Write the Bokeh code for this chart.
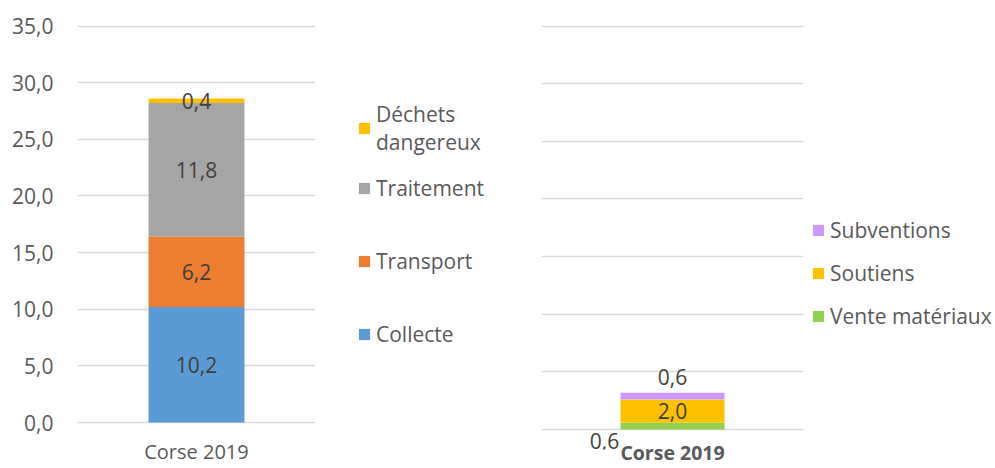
from bokeh.plotting import figure
from bokeh.models import (ColumnDataSource, Legend, LegendItem, LabelSet,
                          FactorRange, Range1d, SingleIntervalTicker, CustomJSTickFormatter)
from bokeh.core.properties import value
from bokeh.layouts import row
from bokeh.embed import file_html
from bokeh.resources import INLINE

# ---------------- data ----------------
categories = ["Corse 2019"]

cost_series = ["Collecte", "Transport", "Traitement", "Déchets dangereux"]
collecte = [10.2]
transport = [6.2]
traitement = [11.8]
dechets_dangereux = [0.4]

rev_series = ["Vente matériaux", "Soutiens", "Subventions"]
vente_materiaux = [0.6]
soutiens = [2.0]
subventions = [0.6]

y_max = 35
y_step = 5

# ---------------- styles / layout ----------------
FONT = "Open Sans"
FS = "21px"
TXT = "#595959"
LBL = "#404040"
GRID = "#D9D9D9"
cost_colors = ["#5B9BD5", "#ED7D31", "#A5A5A5", "#FFC000"]
rev_colors = ["#92D050", "#FFC000", "#CC99FF"]
H = 468
TOP = 25
BOTTOM = 18
# the plot areas reach a little below zero so that labels under the bars stay visible
left_floor = -2.38
right_floor = -1.73
top_pad = 0.05


def fmt(v):
    return f"{v:.1f}".replace(".", ",")


comma_fmt = CustomJSTickFormatter(code="return tick.toFixed(1).replace('.', ',');")


def make_legend(items, loc, spacing, **kw):
    return Legend(items=items, location=loc, orientation="vertical", spacing=spacing,
                  glyph_width=14, glyph_height=14, label_standoff=5,
                  label_text_font=FONT, label_text_font_size=FS, label_text_color=TXT,
                  padding=0, margin=0, border_line_color=None, background_fill_alpha=0,
                  inactive_fill_alpha=0, click_policy="none", **kw)


def legend_fig(width, keys, colors, source):
    """A blank figure (no axes) that only carries legends for the given series."""
    f = figure(x_range=FactorRange(*categories), y_range=Range1d(0, 1),
               width=width, height=H, output_backend="svg", toolbar_location=None,
               x_axis_location=None, y_axis_location=None,
               min_border_left=0, min_border_right=0,
               min_border_top=TOP, min_border_bottom=BOTTOM)
    f.grid.visible = False
    f.outline_line_color = None
    rs = f.vbar_stack(keys, x="cat", width=0.4, color=colors, source=source, line_width=0)
    for r in rs:
        r.visible = False
    return f, rs


def style_bar_fig(p, standoff, font_size, bold):
    p.ygrid.ticker = SingleIntervalTicker(interval=y_step)
    p.ygrid.grid_line_color = GRID
    p.ygrid.grid_line_width = 1.5
    p.xgrid.grid_line_color = None
    p.xaxis.axis_line_color = None
    p.xaxis.major_tick_line_color = None
    p.xaxis.major_tick_out = 0
    p.xaxis.major_tick_in = 0
    p.xaxis.major_label_standoff = standoff
    p.xaxis.major_label_text_font = FONT
    p.xaxis.major_label_text_font_size = font_size
    p.xaxis.major_label_text_color = TXT
    if bold:
        p.xaxis.major_label_text_font_style = "bold"
    p.outline_line_color = None


# ---------------- left chart ----------------
src1 = ColumnDataSource(dict(cat=categories, Collecte=collecte, Transport=transport,
                             Traitement=traitement, Dechets=dechets_dangereux))
keys1 = ["Collecte", "Transport", "Traitement", "Dechets"]

p1 = figure(x_range=FactorRange(*categories, range_padding=0),
            y_range=Range1d(left_floor, y_max + top_pad),
            width=315, height=H, output_backend="svg", toolbar_location=None,
            min_border_left=77, min_border_right=0, min_border_top=TOP, min_border_bottom=BOTTOM)
p1.vbar_stack(keys1, x="cat", width=0.403, color=cost_colors, source=src1, line_width=0)
style_bar_fig(p1, -12, "20px", False)

p1.yaxis.ticker = SingleIntervalTicker(interval=y_step)
p1.yaxis.formatter = comma_fmt
p1.yaxis.axis_line_color = None
p1.yaxis.major_tick_line_color = None
p1.yaxis.minor_tick_line_color = None
p1.yaxis.major_tick_out = 0
p1.yaxis.minor_tick_out = 0
p1.yaxis.major_label_standoff = 24
p1.yaxis.major_label_text_font_size = FS
p1.yaxis.major_label_text_font = FONT
p1.yaxis.major_label_text_color = TXT

cum = 0.0
lx, ly, lt = [], [], []
for vals in (collecte, transport, traitement, dechets_dangereux):
    v = vals[0]
    lx.append(categories[0]); ly.append(cum + v / 2); lt.append(fmt(v))
    cum += v
lab1 = ColumnDataSource(dict(x=lx, y=ly, t=lt))
p1.add_layout(LabelSet(x="x", y="y", text="t", source=lab1, text_align="center",
                       text_baseline="middle", text_font=value(FONT), text_font_size=FS,
                       text_color=LBL))

leg_f1, lr1 = legend_fig(216, keys1, cost_colors, ColumnDataSource(src1.data))
leg_f1.add_layout(make_legend([LegendItem(label="Déchets\ndangereux", renderers=[lr1[3]])],
                              (42, 293), 0, label_text_line_height=1.31), "center")
leg_f1.add_layout(make_legend([LegendItem(label="Traitement", renderers=[lr1[2]]),
                               LegendItem(label="Transport", renderers=[lr1[1]]),
                               LegendItem(label="Collecte", renderers=[lr1[0]])],
                              (42, 101), 45), "center")

# ---------------- right chart ----------------
src2 = ColumnDataSource(dict(cat=categories, Vente=vente_materiaux, Soutiens=soutiens,
                             Subventions=subventions))
keys2 = ["Vente", "Soutiens", "Subventions"]

p2 = figure(x_range=FactorRange(*categories, range_padding=0),
            y_range=Range1d(right_floor, y_max + top_pad),
            width=278, height=H, output_backend="svg", toolbar_location=None,
            min_border_left=10, min_border_right=6, min_border_top=TOP, min_border_bottom=BOTTOM)
p2.vbar_stack(keys2, x="cat", width=0.397, color=rev_colors, source=src2, line_width=0)
p2.yaxis.visible = False
p2.yaxis.ticker = SingleIntervalTicker(interval=y_step)
style_bar_fig(p2, -11, "19.5px", True)

tot = vente_materiaux[0] + soutiens[0] + subventions[0]
lab2 = ColumnDataSource(dict(
    x=[categories[0]] * 3,
    y=[0, vente_materiaux[0] + soutiens[0] / 2, tot],
    t=[fmt(vente_materiaux[0]), fmt(soutiens[0]), fmt(subventions[0])],
    xo=[-68, 0, 0], yo=[-11, 0, 16]))
p2.add_layout(LabelSet(x="x", y="y", text="t", source=lab2, x_offset="xo", y_offset="yo",
                       text_align="center", text_baseline="middle", text_font=value(FONT),
                       text_font_size=FS, text_color=LBL))

leg_f2, lr2 = legend_fig(186, keys2, rev_colors, ColumnDataSource(src2.data))
leg_f2.add_layout(make_legend([LegendItem(label="Subventions", renderers=[lr2[2]]),
                               LegendItem(label="Soutiens", renderers=[lr2[1]]),
                               LegendItem(label="Vente matériaux", renderers=[lr2[0]])],
                              (2, 119), 15), "center")

layout = row(p1, leg_f1, p2, leg_f2)
open("out.html", "w").write(file_html(layout, INLINE))
